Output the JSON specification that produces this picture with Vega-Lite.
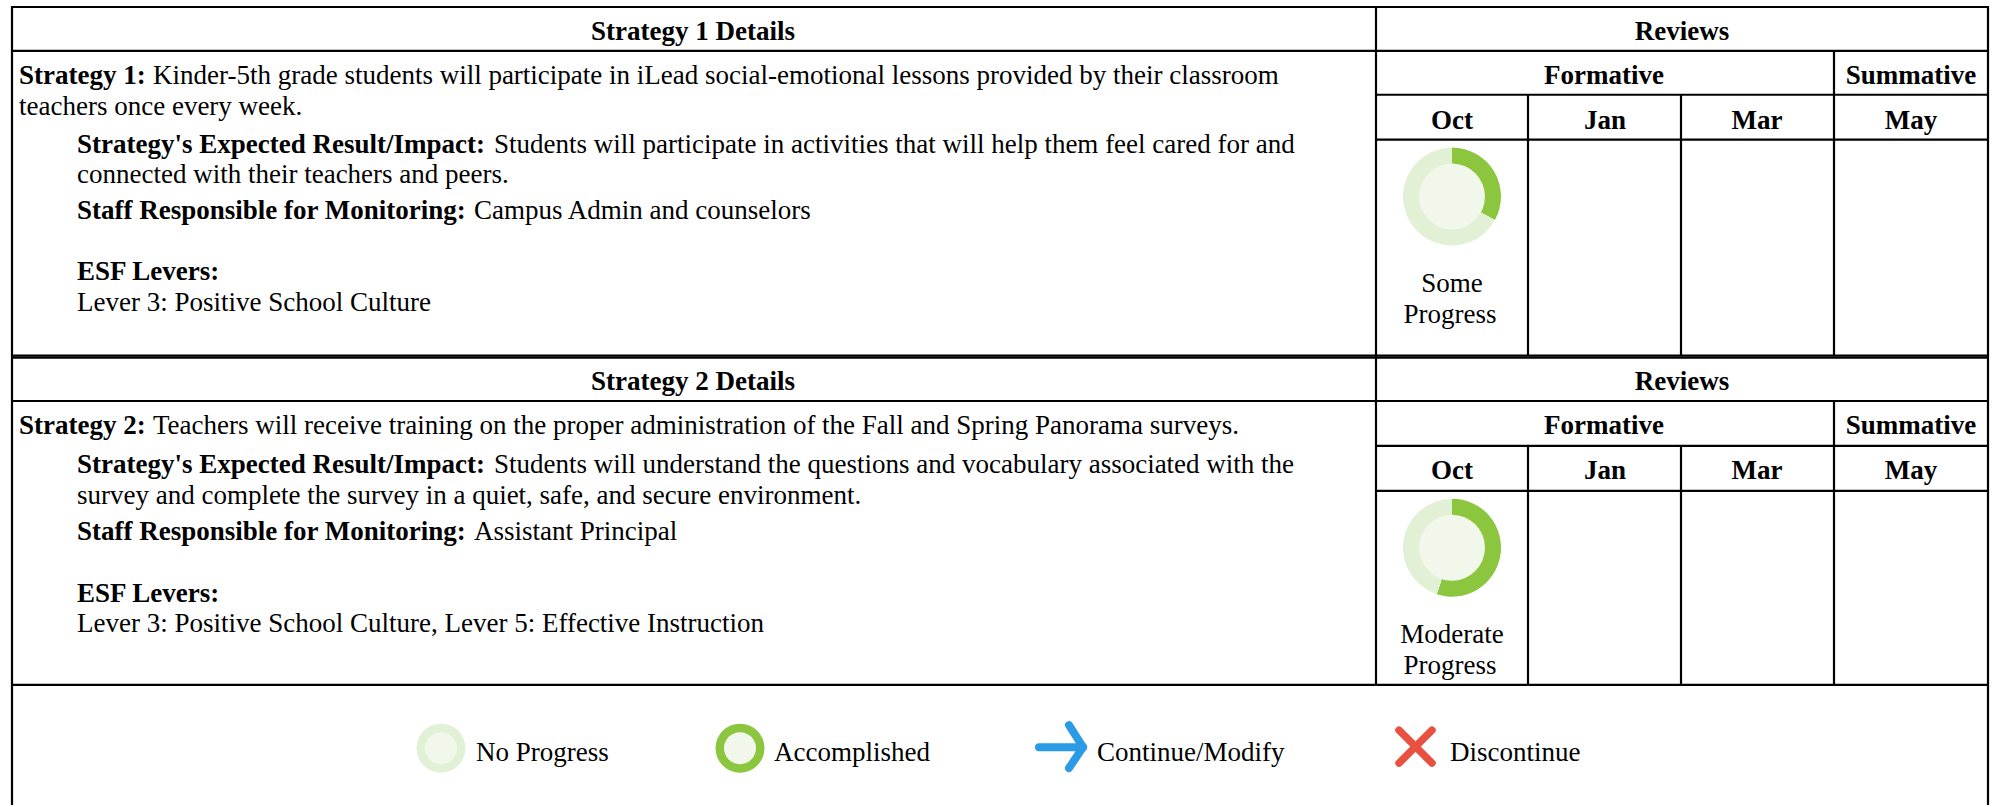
{
"$schema":"https://vega.github.io/schema/vega-lite/v6.json",
"width":1997,"height":807,"padding":0,
"autosize":{"type":"fit","contains":"padding"},
"background":"white",
"view":{"stroke":null},
"datasets":{
"grid":[
{"a":12,"b":7,"c":1988,"d":7},{"a":12,"b":51,"c":1988,"d":51},{"a":1376,"b":95,"c":1988,"d":95},{"a":1376,"b":140,"c":1988,"d":140},
{"a":12,"b":356.5,"c":1988,"d":356.5},{"a":12,"b":358.5,"c":1988,"d":358.5},
{"a":12,"b":402,"c":1988,"d":402},{"a":1376,"b":447,"c":1988,"d":447},{"a":1376,"b":492,"c":1988,"d":492},{"a":12,"b":686.5,"c":1988,"d":686.5},
{"a":12,"b":6,"c":12,"d":807},{"a":1988,"b":6,"c":1988,"d":807},{"a":1376,"b":7,"c":1376,"d":687},
{"a":1834,"b":51,"c":1834,"d":356},{"a":1528,"b":95,"c":1528,"d":356},{"a":1681,"b":95,"c":1681,"d":356},
{"a":1834,"b":402,"c":1834,"d":686},{"a":1528,"b":447,"c":1528,"d":686},{"a":1681,"b":447,"c":1681,"d":686}
],
"donuts":[
{"cx":1452,"cy":197,"s":0,"e":0.33,"part":"done"},{"cx":1452,"cy":197,"s":0.33,"e":1,"part":"rest"},
{"cx":1452,"cy":549,"s":0,"e":0.55,"part":"done"},{"cx":1452,"cy":549,"s":0.55,"e":1,"part":"rest"}
],
"centers":[{"cx":1452,"cy":197,"s":0,"e":1},{"cx":1452,"cy":549,"s":0,"e":1}],
"legendRings":[
{"cx":441,"cy":750,"s":0,"e":1,"part":"rest"},{"cx":740,"cy":750,"s":0,"e":1,"part":"done"}
],
"legendCenters":[{"cx":441,"cy":750,"s":0,"e":1},{"cx":740,"cy":750,"s":0,"e":1}],
"arrow":[
{"a":1039,"b":749,"c":1083,"d":749},{"a":1069,"b":727,"c":1083,"d":749},{"a":1069,"b":770,"c":1083,"d":749}
],
"cross":[
{"a":1399,"b":732,"c":1432,"d":765},{"a":1432,"b":732,"c":1399,"d":765}
],
"boldCenter":[
{"x":693,"y":40,"t":"Strategy 1 Details"},{"x":1682,"y":40,"t":"Reviews"},{"x":1604,"y":84,"t":"Formative"},{"x":1911,"y":84,"t":"Summative"},
{"x":1452,"y":129,"t":"Oct"},{"x":1605,"y":129,"t":"Jan"},{"x":1757,"y":129,"t":"Mar"},{"x":1911,"y":129,"t":"May"},
{"x":693,"y":391,"t":"Strategy 2 Details"},{"x":1682,"y":391,"t":"Reviews"},{"x":1604,"y":435,"t":"Formative"},{"x":1911,"y":435,"t":"Summative"},
{"x":1452,"y":480,"t":"Oct"},{"x":1605,"y":480,"t":"Jan"},{"x":1757,"y":480,"t":"Mar"},{"x":1911,"y":480,"t":"May"}
],
"boldLeft":[
{"x":19,"y":84,"t":"Strategy 1:"},{"x":77,"y":153,"t":"Strategy's Expected Result/Impact:"},{"x":77,"y":220,"t":"Staff Responsible for Monitoring:"},{"x":77,"y":281,"t":"ESF Levers:"},
{"x":19,"y":435,"t":"Strategy 2:"},{"x":77,"y":474,"t":"Strategy's Expected Result/Impact:"},{"x":77,"y":541,"t":"Staff Responsible for Monitoring:"},{"x":77,"y":603,"t":"ESF Levers:"}
],
"normalLeft":[
{"x":153,"y":84,"t":"Kinder-5th grade students will participate in iLead social-emotional lessons provided by their classroom"},
{"x":19,"y":115,"t":"teachers once every week."},
{"x":494,"y":153,"t":"Students will participate in activities that will help them feel cared for and"},
{"x":77,"y":183,"t":"connected with their teachers and peers."},
{"x":474,"y":220,"t":"Campus Admin and counselors"},
{"x":77,"y":312,"t":"Lever 3: Positive School Culture"},
{"x":153,"y":435,"t":"Teachers will receive training on the proper administration of the Fall and Spring Panorama surveys."},
{"x":494,"y":474,"t":"Students will understand the questions and vocabulary associated with the"},
{"x":77,"y":505,"t":"survey and complete the survey in a quiet, safe, and secure environment."},
{"x":474,"y":541,"t":"Assistant Principal"},
{"x":77,"y":634,"t":"Lever 3: Positive School Culture, Lever 5: Effective Instruction"},
{"x":476,"y":763,"t":"No Progress"},{"x":774,"y":763,"t":"Accomplished"},{"x":1097,"y":763,"t":"Continue/Modify"},{"x":1450,"y":763,"t":"Discontinue"}
],
"normalCenter":[
{"x":1452,"y":293,"t":"Some"},{"x":1450,"y":324,"t":"Progress"},{"x":1452,"y":645,"t":"Moderate"},{"x":1450,"y":676,"t":"Progress"}
]
},
"layer":[
{"data":{"name":"grid"},"mark":{"type":"rule","color":"#000","strokeWidth":2.2},
 "encoding":{"x":{"field":"a","type":"quantitative","scale":{"domain":[0,1997],"nice":false,"zero":false},"axis":null},"y":{"field":"b","type":"quantitative","scale":{"domain":[807,0],"nice":false,"zero":false},"axis":null},"x2":{"field":"c"},"y2":{"field":"d"}}},
{"data":{"name":"donuts"},"mark":{"type":"arc","innerRadius":32,"outerRadius":49},
 "encoding":{"x":{"field":"cx","type":"quantitative","axis":null},"y":{"field":"cy","type":"quantitative","axis":null},
 "theta":{"field":"s","type":"quantitative","stack":null,"scale":{"domain":[0,1],"range":[0,6.2832]}},"theta2":{"field":"e"},
 "color":{"field":"part","type":"nominal","legend":null,"scale":{"domain":["done","rest"],"range":["#8bc63e","#e2f0d6"]}}}},
{"data":{"name":"centers"},"mark":{"type":"arc","innerRadius":0,"outerRadius":33,"fill":"#f1f7ea"},
 "encoding":{"x":{"field":"cx","type":"quantitative","axis":null},"y":{"field":"cy","type":"quantitative","axis":null},
 "theta":{"field":"s","type":"quantitative","stack":null,"scale":{"domain":[0,1],"range":[0,6.2832]}},"theta2":{"field":"e"}}},
{"data":{"name":"legendRings"},"mark":{"type":"arc","innerRadius":15,"outerRadius":24.5},
 "encoding":{"x":{"field":"cx","type":"quantitative","axis":null},"y":{"field":"cy","type":"quantitative","axis":null},
 "theta":{"field":"s","type":"quantitative","stack":null,"scale":{"domain":[0,1],"range":[0,6.2832]}},"theta2":{"field":"e"},
 "color":{"field":"part","type":"nominal","legend":null,"scale":{"domain":["done","rest"],"range":["#8bc63e","#e2f0d6"]}}}},
{"data":{"name":"legendCenters"},"mark":{"type":"arc","innerRadius":0,"outerRadius":16,"fill":"#f1f7ea"},
 "encoding":{"x":{"field":"cx","type":"quantitative","axis":null},"y":{"field":"cy","type":"quantitative","axis":null},
 "theta":{"field":"s","type":"quantitative","stack":null,"scale":{"domain":[0,1],"range":[0,6.2832]}},"theta2":{"field":"e"}}},
{"data":{"name":"arrow"},"mark":{"type":"rule","color":"#2b9be6","strokeWidth":8,"strokeCap":"round"},
 "encoding":{"x":{"field":"a","type":"quantitative"},"y":{"field":"b","type":"quantitative"},"x2":{"field":"c"},"y2":{"field":"d"}}},
{"data":{"name":"cross"},"mark":{"type":"rule","color":"#ea5040","strokeWidth":7.5,"strokeCap":"round"},
 "encoding":{"x":{"field":"a","type":"quantitative"},"y":{"field":"b","type":"quantitative"},"x2":{"field":"c"},"y2":{"field":"d"}}},
{"data":{"name":"boldCenter"},"mark":{"type":"text","font":"Liberation Serif","fontSize":27,"fontWeight":"bold","align":"center","baseline":"alphabetic","color":"#000"},
 "encoding":{"x":{"field":"x","type":"quantitative"},"y":{"field":"y","type":"quantitative"},"text":{"field":"t"}}},
{"data":{"name":"boldLeft"},"mark":{"type":"text","font":"Liberation Serif","fontSize":27,"fontWeight":"bold","align":"left","baseline":"alphabetic","color":"#000"},
 "encoding":{"x":{"field":"x","type":"quantitative"},"y":{"field":"y","type":"quantitative"},"text":{"field":"t"}}},
{"data":{"name":"normalLeft"},"mark":{"type":"text","font":"Liberation Serif","fontSize":27,"align":"left","baseline":"alphabetic","color":"#000"},
 "encoding":{"x":{"field":"x","type":"quantitative"},"y":{"field":"y","type":"quantitative"},"text":{"field":"t"}}},
{"data":{"name":"normalCenter"},"mark":{"type":"text","font":"Liberation Serif","fontSize":27,"align":"center","baseline":"alphabetic","color":"#000"},
 "encoding":{"x":{"field":"x","type":"quantitative"},"y":{"field":"y","type":"quantitative"},"text":{"field":"t"}}}
],
"resolve":{"scale":{"theta":"independent"}}
}
